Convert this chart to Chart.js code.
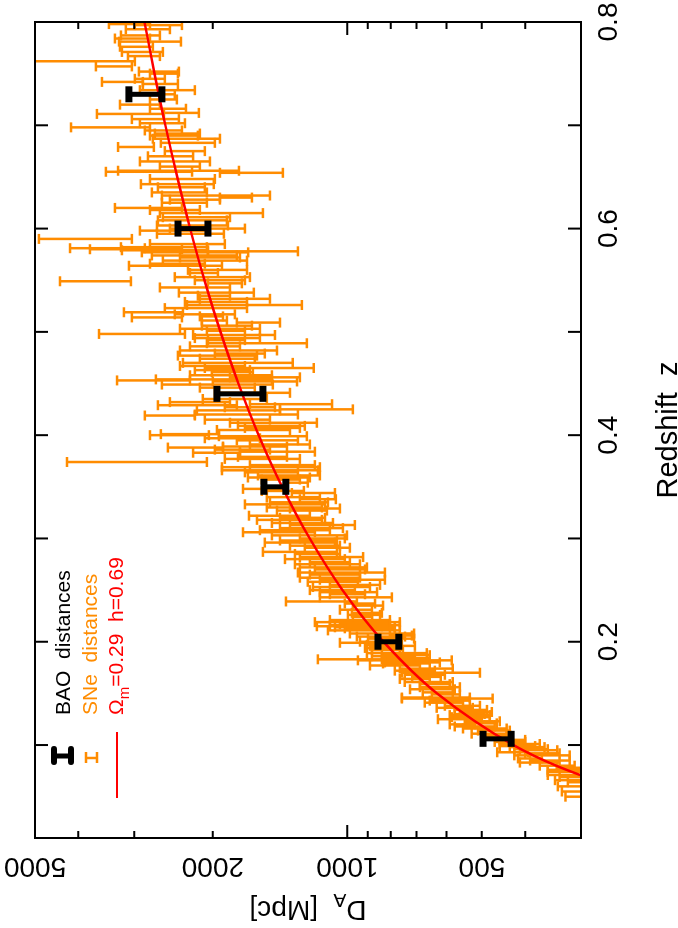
<!DOCTYPE html>
<html lang="en">
<head>
<meta charset="utf-8">
<title>BAO and SNe distances</title>
<script src="https://cdn.jsdelivr.net/npm/chart.js@4.4.1/dist/chart.umd.min.js"></script>
<style>
  html, body { margin: 0; padding: 0; background: #fff; overflow: hidden; }
  /* 図は横倒しなので、普通の向きで描いてから 90° 回す */
  #wrap {
    position: absolute; left: 0; top: 0; width: 928px; height: 678px;
    transform-origin: 0 0; transform: translate(0, 928px) rotate(-90deg);
  }
</style>
</head>
<body>
<div id="wrap"><canvas id="chart" width="928" height="678"></canvas></div>
<script>
/* --------- データ --------- */
// 軸の目盛り
const zTicks = [0.1, 0.2, 0.3, 0.4, 0.5, 0.6, 0.7, 0.8];
const zLabels = [0.2, 0.4, 0.6, 0.8];
const daTicks = [400, 500, 600, 700, 800, 900, 1000, 2000, 3000, 4000, 5000];
const daMajor = [1000];
const daLabels = [500, 1000, 2000, 5000];

// BAO 距離（z, 下端, 上端 [Mpc]）
const baoZ  = [0.106, 0.2, 0.35, 0.44, 0.6, 0.73];
const baoLo = [430, 767, 1373, 1545, 2051, 2600];
const baoHi = [497, 854, 1537, 1958, 2393, 3082];

// モデル曲線 Ωm=0.29 h=0.69
const modelZ  = [0.06, 0.08, 0.10, 0.15, 0.20, 0.25, 0.30, 0.35, 0.40, 0.45, 0.50, 0.55, 0.60, 0.65, 0.70, 0.75, 0.80];
const modelDA = [257, 341, 425, 630, 830, 1025, 1214, 1399, 1579, 1753, 1923, 2088, 2248, 2403, 2554, 2700, 2843];

// SNe 距離（z, 上端, 下端 [Mpc]）
const snZ = [
  0.798, 0.797, 0.787, 0.781, 0.776, 0.771, 0.762, 0.757, 0.752, 0.750,
  0.742, 0.740, 0.734, 0.725, 0.716, 0.712, 0.711, 0.706, 0.698, 0.695,
  0.690, 0.687, 0.683, 0.679, 0.675, 0.670, 0.656, 0.655, 0.654, 0.643,
  0.640, 0.635, 0.632, 0.630, 0.625, 0.620, 0.615, 0.611, 0.608, 0.603,
  0.595, 0.590, 0.581, 0.582, 0.580, 0.579, 0.577, 0.578, 0.574, 0.569,
  0.564, 0.560, 0.557, 0.550, 0.549, 0.547, 0.538, 0.535, 0.529, 0.526,
  0.523, 0.519, 0.515, 0.514, 0.511, 0.509, 0.506, 0.501, 0.498, 0.497,
  0.494, 0.492, 0.489, 0.482, 0.477, 0.474, 0.470, 0.467, 0.465, 0.461,
  0.458, 0.454, 0.453, 0.452, 0.449, 0.435, 0.430, 0.429, 0.425, 0.424,
  0.420, 0.419, 0.412, 0.409, 0.405, 0.401, 0.400, 0.399, 0.395, 0.389,
  0.388, 0.384, 0.383, 0.379, 0.374, 0.369, 0.366, 0.364, 0.361, 0.359,
  0.354, 0.348, 0.344, 0.340, 0.335, 0.330, 0.327, 0.322, 0.318, 0.315,
  0.310, 0.306, 0.303, 0.298, 0.293, 0.287, 0.282, 0.277, 0.272, 0.267,
  0.262, 0.258, 0.253, 0.248, 0.243, 0.239, 0.235, 0.228, 0.224, 0.219,
  0.216, 0.215, 0.214, 0.211, 0.208, 0.206, 0.203, 0.197, 0.192, 0.189,
  0.187, 0.184, 0.183, 0.182, 0.179, 0.174, 0.170, 0.166, 0.161, 0.156,
  0.151, 0.146, 0.145, 0.141, 0.134, 0.130, 0.129, 0.125, 0.121, 0.120,
  0.116, 0.111, 0.105, 0.101, 0.098, 0.095, 0.093, 0.090, 0.087, 0.083,
  0.078, 0.074, 0.071, 0.069, 0.066, 0.064,
  0.357, 0.346, 0.338, 0.333, 0.329, 0.320, 0.313, 0.308, 0.300, 0.296,
  0.291, 0.285, 0.280, 0.275, 0.270, 0.265, 0.260, 0.255, 0.250, 0.246,
  0.237, 0.231, 0.226, 0.221, 0.217, 0.213, 0.205, 0.200, 0.196,
  0.199, 0.194, 0.186, 0.180, 0.177, 0.172, 0.168, 0.164, 0.159, 0.154,
  0.149, 0.143, 0.138, 0.136, 0.132, 0.127, 0.123, 0.118, 0.114, 0.109,
  0.103, 0.099, 0.096, 0.092, 0.085, 0.080, 0.076, 0.060, 0.055, 0.050,
  0.793, 0.784, 0.767, 0.745, 0.730, 0.720, 0.702, 0.692, 0.665, 0.660,
  0.648, 0.628, 0.618, 0.600, 0.598, 0.585, 0.572, 0.566, 0.553, 0.543,
  0.532, 0.517, 0.503, 0.486, 0.479, 0.463, 0.456, 0.446, 0.441, 0.432,
  0.427, 0.415, 0.407, 0.397, 0.391, 0.386, 0.377, 0.371
];
const snHi = [
  3416, 2990, 3211, 3243, 3227, 3195, 5300, 3653, 2927, 2765,
  3541, 2868, 2912, 2765, 2765, 2574, 3634, 3035, 4153, 2839,
  2765, 2724, 2614, 3259, 2561, 2794, 3259, 3470, 1928, 2897,
  2654, 2738, 2600, 1928, 2600, 3312, 2627, 2587, 2654, 2667,
  2667, 4900, 4174, 3211, 3767, 3195, 2883, 2051, 2738, 2587,
  3081, 2273, 2250, 2194, 4396, 2051, 2382, 2160, 2309, 2285,
  2561, 3162, 2138, 3035, 2116, 1767, 2116, 2062, 3595, 2214,
  2194, 2051, 2062, 2369, 2394, 2138, 2333, 2369, 2084, 2010,
  2250, 2682, 3276, 2000, 2600, 2106, 1652, 2654, 1415, 2171,
  2194, 2839, 1831, 1757, 1958, 2614, 2765, 1938, 1767, 1898,
  2521, 1739, 2214, 1757, 4240, 1908, 1908, 1695, 1585, 1669,
  1379, 1712, 1331, 1514, 1490, 1514, 1437, 1660, 1593, 1475,
  1415, 1712, 1475, 1415, 1344, 1545, 1277, 1213, 1277, 1290,
  1277, 1226, 1194, 1152, 1152, 1372, 972, 977, 972, 1182,
  1094, 1170, 1066, 1105, 987, 803, 899, 904, 881, 904,
  837, 832, 1164, 947, 832, 763, 755, 716, 744, 688,
  678, 755, 755, 671, 575, 575, 590, 627, 541, 590,
  551, 527, 456, 456, 433, 411, 462, 423, 415, 411,
  340, 356, 356, 335, 343, 321,
  1554, 1554, 1277, 1695, 1344, 1415, 1344, 1569, 1277, 1530,
  1245, 1310, 1379, 1310, 1182, 1213, 1152, 1094, 1213, 1094,
  1013, 1039, 997, 1094, 1039, 1013, 952, 937, 890,
  1039, 913, 881, 824, 890, 783, 744, 763, 688, 724,
  647, 654, 605, 631, 560, 584, 546, 575, 510, 492,
  468, 456, 423, 400, 390, 371, 356, 338, 331, 325,
  3131, 3312, 3097, 2989, 3097, 3227, 2912, 2696, 2912, 2627,
  2765, 2495, 2765, 2495, 2912, 2765, 2369, 2765, 2433, 2627,
  2138, 2433, 2369, 2250, 1979, 2194, 1831, 2138, 1979, 2495,
  1880, 2084, 1695, 2084, 1652, 1979, 1880, 1652
];
const snLo = [
  2765, 2345, 2627, 2357, 2724, 2587, 2989, 3035, 2382, 2394,
  2868, 2394, 2194, 2407, 2297, 2149, 2574, 2382, 2765, 2345,
  2160, 1928, 1979, 2710, 2084, 2214, 1748, 2226, 1394, 1990,
  2084, 2062, 1490, 1635, 2062, 2345, 1545, 1831, 1860, 1850,
  1889, 3035, 2839, 2062, 2345, 2051, 1667, 1290, 1767, 1677,
  1908, 1677, 1948, 1695, 3050, 1722, 1619, 1831, 1677, 1264,
  1677, 2333, 1898, 2345, 1860, 1415, 1635, 1695, 2309, 1452,
  1569, 1695, 1232, 1437, 1593, 1611, 1325, 1695, 1189, 1627,
  1475, 1475, 2250, 1296, 1468, 1514, 1082, 1767, 972, 1415,
  1290, 2194, 1170, 1245, 1344, 1938, 2041, 1232, 1290, 1365,
  1898, 1182, 1739, 1365, 2062, 1152, 1164, 1290, 1152, 1213,
  1226, 1365, 1066, 1152, 1105, 1140, 1111, 1213, 1140, 1077,
  1023, 1182, 1002, 1055, 1039, 1055, 922, 987, 904, 824,
  937, 947, 890, 858, 795, 952, 832, 837, 880, 763,
  763, 837, 783, 763, 709, 717, 709, 755, 751, 664,
  654, 654, 837, 584, 654, 581, 505, 618, 581, 560,
  581, 532, 473, 551, 487, 493, 480, 500, 463, 518,
  440, 440, 400, 371, 362, 339, 394, 318, 367, 335,
  285, 285, 285, 285, 285, 280,
  1277, 1251, 1061, 1122, 1039, 1122, 962, 1094, 1013, 1066,
  987, 1039, 1013, 937, 913, 937, 824, 845, 962, 913,
  867, 881, 845, 803, 803, 783, 743, 763, 706,
  845, 763, 706, 621, 688, 637, 605, 654, 590, 575,
  560, 532, 505, 524, 475, 480, 456, 468, 433, 431,
  400, 380, 356, 335, 318, 310, 285, 285, 285, 285,
  2495, 2765, 2627, 2561, 2433, 2627, 2309, 2138, 2030, 2138,
  1979, 1928, 2138, 1695, 2030, 1880, 1739, 2084, 1652, 1831,
  1490, 1785, 1569, 1739, 1530, 1652, 1277, 1611, 1344, 1831,
  1452, 1490, 1277, 1569, 1213, 1490, 1277, 1182
];

/* --------- 見た目の設定 --------- */
const FONT = '"Liberation Sans", Arial, Helvetica, sans-serif';
const ORANGE = '#ff8c00';
const legendText = ['BAO  distances', 'SNe  distances'];

// エラーバー用の点列（下端・上端・切れ目）を作る
function errorBarPoints(zs, los, his) {
  const pts = [];
  zs.forEach((z, i) => {
    pts.push({ x: z, y: los[i] }, { x: z, y: his[i] }, { x: z, y: null });
  });
  return pts;
}

/* --------- 枠・目盛り・文字・凡例 --------- */
const framePlugin = {
  id: 'frame',
  afterDraw(chart) {
    const { ctx, chartArea: a, scales: { x, y } } = chart;
    ctx.save();

    // 枠と内向きの目盛り
    ctx.strokeStyle = '#000';
    ctx.lineWidth = 2;
    ctx.strokeRect(a.left, a.top, a.right - a.left, a.bottom - a.top);
    ctx.beginPath();
    zTicks.forEach((t) => {
      const px = x.getPixelForValue(t);
      ctx.moveTo(px, a.bottom); ctx.lineTo(px, a.bottom - 13);
      ctx.moveTo(px, a.top); ctx.lineTo(px, a.top + 13);
    });
    daTicks.forEach((t) => {
      const py = y.getPixelForValue(t);
      const len = daMajor.includes(t) ? 13 : 7;
      ctx.moveTo(a.left, py); ctx.lineTo(a.left + len, py);
      ctx.moveTo(a.right, py); ctx.lineTo(a.right - len, py);
    });
    ctx.stroke();

    // 目盛りラベル
    ctx.fillStyle = '#000';
    ctx.font = `28px ${FONT}`;
    ctx.textAlign = 'center';
    ctx.textBaseline = 'alphabetic';
    zLabels.forEach((t) => ctx.fillText(t.toFixed(1), x.getPixelForValue(t), a.bottom + 36));
    daLabels.forEach((t) => {
      ctx.save();
      ctx.translate(a.left - 20, y.getPixelForValue(t));
      ctx.rotate(-Math.PI / 2);
      ctx.fillText(String(t), 0, 0);
      ctx.restore();
    });

    // 軸タイトル
    ctx.font = `29px ${FONT}`;
    ctx.fillText('Redshift  z', (a.left + a.right) / 2, a.bottom + 96);

    ctx.save();
    ctx.translate(a.left - 63, (a.top + a.bottom) / 2);
    ctx.rotate(-Math.PI / 2);
    ctx.textAlign = 'left';
    const big = `28px ${FONT}`, small = `19px ${FONT}`;
    ctx.font = big; const wD = ctx.measureText('D').width;
    const wRest = ctx.measureText('  [Mpc]').width;
    ctx.font = small; const wA = ctx.measureText('A').width;
    let cx = -(wD + wA + wRest) / 2;
    ctx.font = big; ctx.fillText('D', cx, 0); cx += wD;
    ctx.font = small; ctx.fillText('A', cx, 7); cx += wA;
    ctx.font = big; ctx.fillText('  [Mpc]', cx, 0);
    ctx.restore();

    // 凡例
    const lx = a.left + 123;
    ctx.textAlign = 'left';
    ctx.font = `21px ${FONT}`;
    ctx.fillStyle = '#000';
    ctx.fillText(legendText[0], lx, a.top + 35);
    ctx.fillStyle = ORANGE;
    ctx.fillText(legendText[1], lx, a.top + 62);
    ctx.fillStyle = '#ff0000';
    let mx = lx;
    ctx.fillText('\u03A9', mx, a.top + 88); mx += ctx.measureText('\u03A9').width;
    ctx.font = `15px ${FONT}`;
    ctx.fillText('m', mx, a.top + 94); mx += ctx.measureText('m').width;
    ctx.font = `21px ${FONT}`;
    ctx.fillText('=0.29  h=0.69', mx, a.top + 88);

    // 凡例の記号
    ctx.strokeStyle = '#000';
    ctx.lineWidth = 5;
    ctx.beginPath();
    ctx.moveTo(a.left + 82, a.top + 19); ctx.lineTo(a.left + 82, a.top + 36);
    ctx.stroke();
    ctx.lineWidth = 6;
    ctx.lineCap = 'round';
    ctx.beginPath();
    ctx.moveTo(a.left + 76, a.top + 19); ctx.lineTo(a.left + 89, a.top + 19);
    ctx.moveTo(a.left + 76, a.top + 36); ctx.lineTo(a.left + 89, a.top + 36);
    ctx.stroke();
    ctx.lineCap = 'butt';
    ctx.strokeStyle = ORANGE;
    ctx.lineWidth = 2.5;
    ctx.beginPath();
    ctx.moveTo(a.left + 80, a.top + 51); ctx.lineTo(a.left + 80, a.top + 62);
    ctx.moveTo(a.left + 75, a.top + 51); ctx.lineTo(a.left + 86, a.top + 51);
    ctx.moveTo(a.left + 75, a.top + 62); ctx.lineTo(a.left + 86, a.top + 62);
    ctx.stroke();
    ctx.strokeStyle = '#ff0000';
    ctx.lineWidth = 2;
    ctx.beginPath();
    ctx.moveTo(a.left + 40, a.top + 82); ctx.lineTo(a.left + 106, a.top + 82);
    ctx.stroke();

    ctx.restore();
  },
};

/* --------- グラフ --------- */
new Chart(document.getElementById('chart'), {
  type: 'line',
  data: {
    datasets: [
      {
        label: 'BAO distances',
        data: errorBarPoints(baoZ, baoLo, baoHi),
        borderColor: '#000',
        borderWidth: 5,
        pointStyle: 'line',
        pointRadius: 8,
        pointBorderWidth: 7,
        pointBorderColor: '#000',
        spanGaps: false,
        order: 0,
      },
      {
        label: 'model',
        data: modelZ.map((z, i) => ({ x: z, y: modelDA[i] })),
        borderColor: '#ff0000',
        borderWidth: 2.5,
        pointRadius: 0,
        cubicInterpolationMode: 'monotone',
        order: 1,
      },
      {
        label: 'SNe distances',
        data: errorBarPoints(snZ, snLo, snHi),
        borderColor: ORANGE,
        borderWidth: 2.5,
        pointStyle: 'line',
        pointRadius: 5,
        pointBorderWidth: 2.5,
        pointBorderColor: ORANGE,
        spanGaps: false,
        order: 2,
      },
    ],
  },
  options: {
    responsive: false,
    animation: false,
    events: [],
    layout: { padding: { left: 90, right: 22, top: 35, bottom: 97 } },
    plugins: { legend: { display: false }, tooltip: { enabled: false } },
    scales: {
      x: { type: 'linear', min: 0.01, max: 0.8, display: false },
      y: { type: 'logarithmic', min: 300, max: 5000, display: false },
    },
  },
  plugins: [framePlugin],
});
</script>
</body>
</html>
